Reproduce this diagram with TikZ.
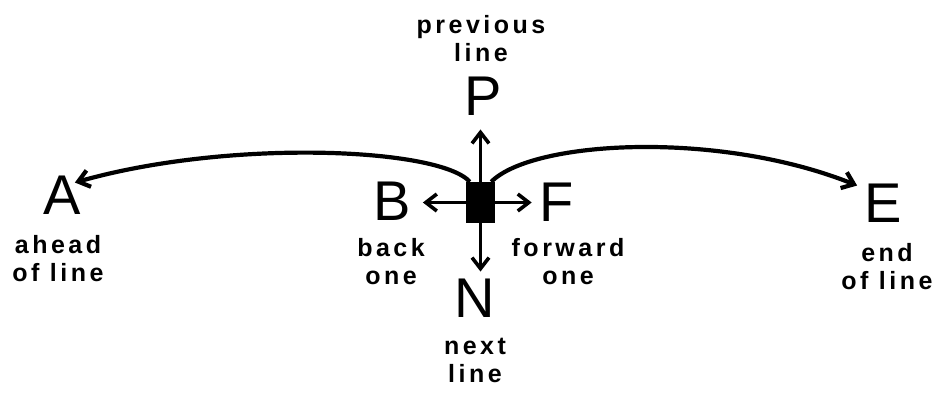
\documentclass[tikz,border=0pt]{standalone}
\usepackage{fontspec}
\setmainfont{Liberation Sans}
\newfontfamily\lblfont[LetterSpace=14]{Liberation Sans}
\usetikzlibrary{arrows.meta, positioning}
\definecolor{inkBlack}{RGB}{0,0,0}
\tikzset{
  letterN/.style={inner sep=0pt, text=inkBlack, font=\fontsize{56}{56}\selectfont},
  labelN/.style={inner sep=0pt, align=center, anchor=north, text=inkBlack,
    font=\lblfont\bfseries\fontsize{25}{28}\selectfont},
  cursorN/.style={rectangle, fill=inkBlack, minimum width=29pt,
    minimum height=41pt, inner sep=0pt},
  arr/.style={-{Straight Barb[length=11pt,width=17pt]}, line width=3.6pt,
    color=inkBlack},
  curveArr/.style={arr, line width=4.2pt},
}

\begin{document}
\begin{tikzpicture}[x=1pt, y=-1pt]
\useasboundingbox (0,0) rectangle (941,392);

% cursor and the six moves
\node[cursorN] (cur) at (480.5,202.5) {};

\node[letterN] (P) at (483,96) {P};
\node[letterN] (B) at (392,201) {B};
\node[letterN] (F) at (557,202) {F};
\node[letterN] (N) at (475,298) {N};
\node[letterN] (A) at (62,195) {A};
\node[letterN] (E) at (883,203) {E};

\node[labelN] (prevL) at (481,15) {previous\\line};
\node[labelN] (backL) at (391,238) {back\\one};
\node[labelN] (fwdL) at (568,238) {forward\\one};
\node[labelN] (nextL) at (475,338) {next\\line};
\node[labelN] (aheadL) at (58,235) {ahead\\of line};
\node[labelN] (endL) at (887,243) {end\\of line};

% short moves
\draw[arr, shorten >=14pt] (cur.north) -- (cur.north |- P.south);
\draw[arr, shorten >=7pt] (cur.south) -- (cur.south |- N.north);
\draw[arr, shorten >=12pt] (cur.west) -- (cur.west -| B.east);
\draw[arr, shorten >=8pt] (cur.east) -- (cur.east -| F.west);

% long moves
\draw[curveArr] ([xshift=4pt]cur.north west)
  .. controls +(-30,-34) and +(155,-44) .. ([xshift=-6pt,yshift=-7pt]A.north east);
\draw[curveArr] ([xshift=-4pt]cur.north east)
  .. controls +(42,-42) and +(-137,-55) .. ([xshift=-7pt,yshift=-2pt]E.north west);

\end{tikzpicture}
\end{document}
